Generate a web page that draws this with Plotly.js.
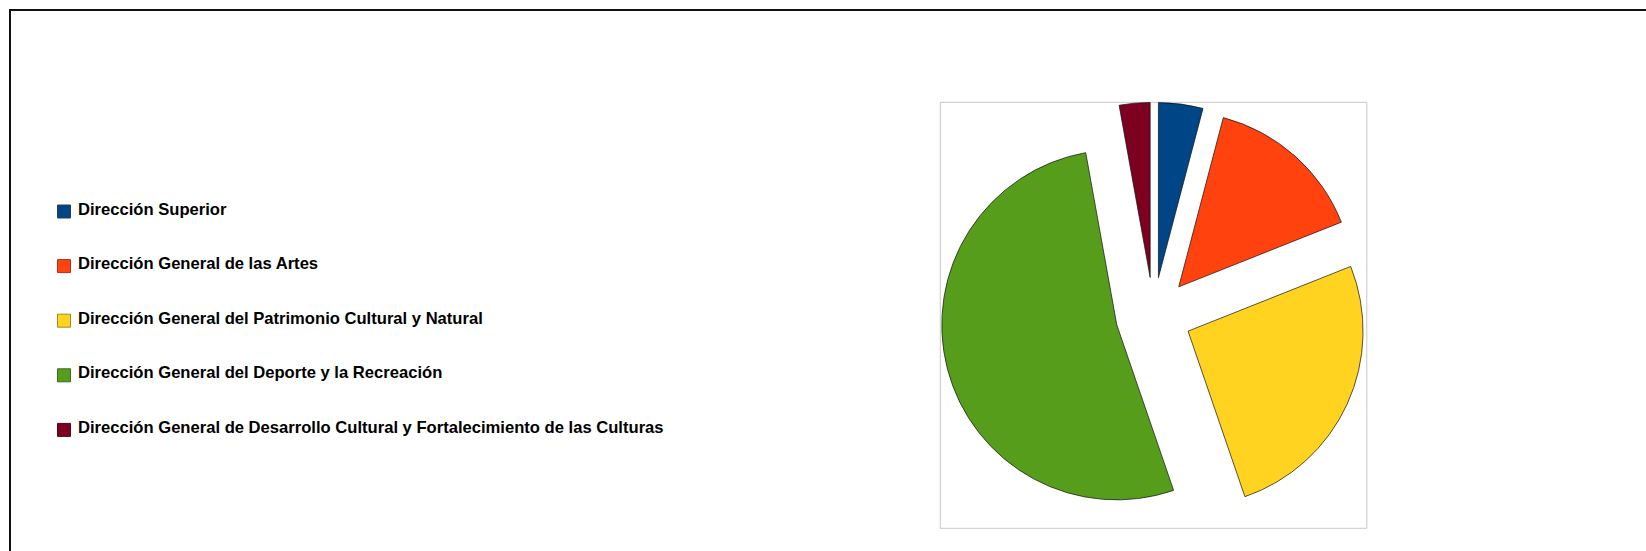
<!DOCTYPE html>
<html>
<head>
<meta charset="utf-8">
<script src="https://cdn.plot.ly/plotly-3.0.1.min.js"></script>
<style>
html,body{margin:0;padding:0;background:#ffffff;overflow:hidden}
#chart{width:1646px;height:551px}
</style>
</head>
<body>
<div id="chart"></div>
<script>
// ---- data ----
const labels = [
  'Dirección Superior',
  'Dirección General de las Artes',
  'Dirección General del Patrimonio Cultural y Natural',
  'Dirección General del Deporte y la Recreación',
  'Dirección General de Desarrollo Cultural y Fortalecimiento de las Culturas'
];
const values = [4.10, 14.87, 25.76, 52.42, 2.84];
const colors = ['#004586', '#ff420e', '#ffd320', '#579d1c', '#7e0021'];
const keyBorders = ['#2b3f58', '#a9361a', '#a58c1c', '#3d6a1e', '#4a0a18'];

// ---- layout helpers (pixel -> paper) ----
const W = 1646, H = 551;
const px = v => v / W;
const py = v => 1 - v / H;

const pieBox = {l: 940.3, r: 1366.8, t: 102.3, b: 528.3};
const legendTop = 211.5, legendStep = 54.6;

const pie = {
  type: 'pie',
  labels: labels,
  values: values,
  sort: false,
  direction: 'clockwise',
  rotation: 0,
  pull: labels.map(() => 0.217),
  textinfo: 'none',
  hoverinfo: 'label+percent',
  showlegend: false,
  marker: {colors: colors, line: {color: '#111111', width: 0.7}},
  domain: {x: [px(pieBox.l), px(pieBox.r)], y: [py(pieBox.b), py(pieBox.t)]}
};

const shapes = [
  // outer frame
  {type: 'rect', xref: 'paper', yref: 'paper', x0: px(10), y0: py(10), x1: 1.02, y1: -0.02,
   line: {color: '#111111', width: 2}, layer: 'below'},
  // pie wall
  {type: 'rect', xref: 'paper', yref: 'paper', x0: px(pieBox.l), y0: py(pieBox.t), x1: px(pieBox.r), y1: py(pieBox.b),
   line: {color: '#c8c8c8', width: 1}, layer: 'below'}
];
const annotations = [];
labels.forEach((lab, i) => {
  const cy = legendTop + i * legendStep;
  shapes.push({type: 'rect', xref: 'paper', yref: 'paper',
    x0: px(57.5), x1: px(70.5), y0: py(cy - 6.5), y1: py(cy + 6.5),
    fillcolor: colors[i], line: {color: keyBorders[i], width: 1}});
  annotations.push({xref: 'paper', yref: 'paper', x: px(76), y: py(cy - 2.5),
    xanchor: 'left', yanchor: 'middle', showarrow: false, text: lab,
    font: {family: 'Liberation Sans, Arial, sans-serif', size: 16.6, weight: 'bold', color: '#000000'}});
});

const layout = {
  width: W, height: H,
  margin: {l: 0, r: 0, t: 0, b: 0},
  paper_bgcolor: '#ffffff',
  showlegend: false,
  shapes: shapes,
  annotations: annotations
};

Plotly.newPlot('chart', [pie], layout, {displayModeBar: false, staticPlot: true});
</script>
</body>
</html>
